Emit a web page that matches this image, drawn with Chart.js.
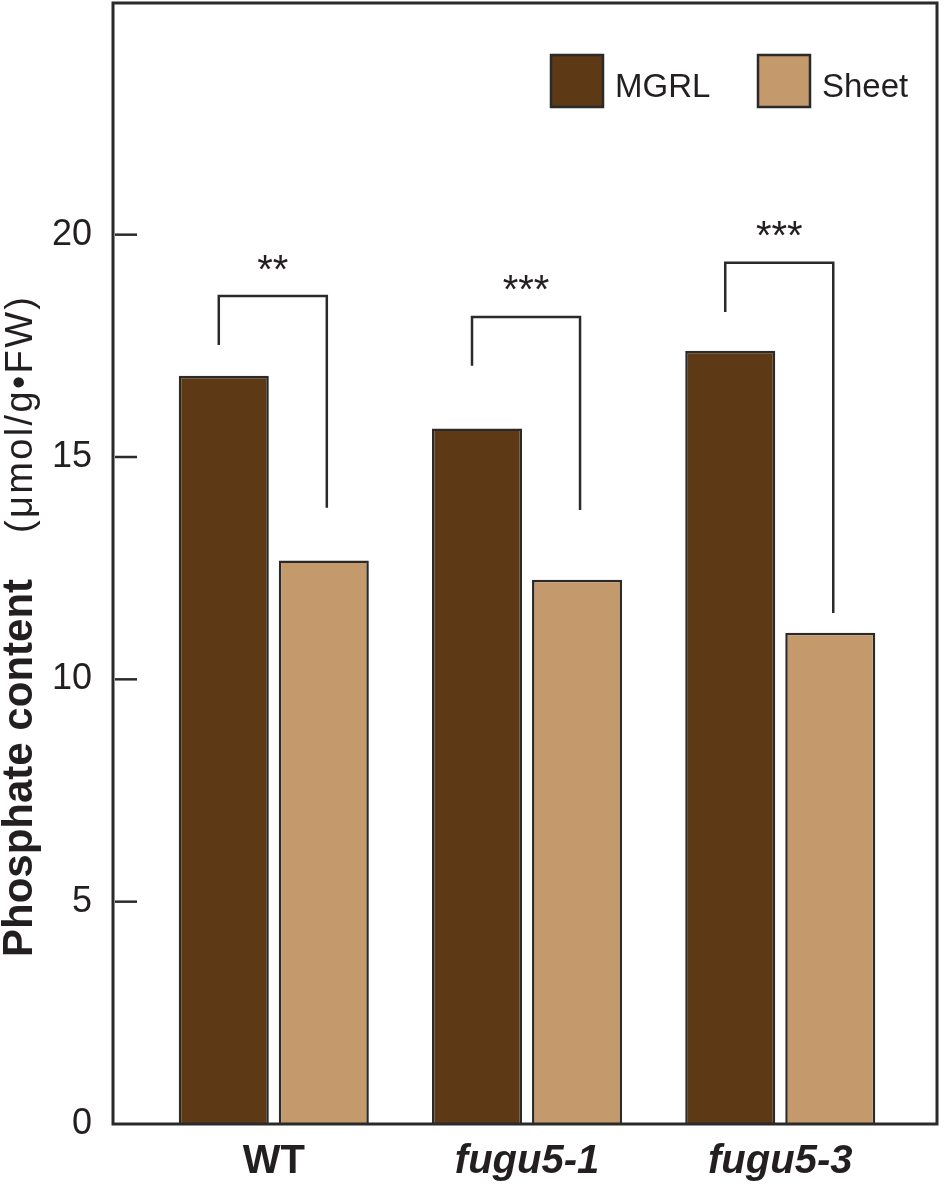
<!DOCTYPE html>
<html lang="en">
<head>
    <meta charset="UTF-8">
    <title>Phosphate content</title>
    <style>
        body {
            margin: 0;
            background-color: #ffffff;
        }
        .wrap {
            width: 944px;
            height: 1188px;
            position: relative;
        }
    </style>
    <script src="https://cdn.jsdelivr.net/npm/chart.js"></script>
</head>
<body>

<div class="wrap">
    <canvas id="phosphateChart"></canvas>
</div>

<script>
    const genotypes = ['WT', 'fugu5-1', 'fugu5-3'];
    const mgrlValues = [16.83, 15.64, 17.39];
    const sheetValues = [12.67, 12.24, 11.05];
    const yTicks = [0, 5, 10, 15, 20];
    const stars = ['**', '***', '***'];
    // significance brackets, in axis units
    const bracketTop = [18.62, 18.15, 19.37];
    const bracketLeftEnd = [17.52, 17.05, 18.26];
    const bracketRightEnd = [13.86, 13.81, 11.49];
    const starLevel = [19.37, 18.92, 20.15];

    const FONT = '"Liberation Sans", Arial, Helvetica, sans-serif';
    const INK = '#231f20';
    const EDGE = '#2a2a2a';

    function textAtCenter(ctx, text, x, yc) {
        const m = ctx.measureText(text);
        ctx.fillText(text, x, yc + (m.actualBoundingBoxAscent - m.actualBoundingBoxDescent) / 2);
    }

    const decorPlugin = {
        id: 'decor',
        afterDatasetsDraw(chart) {
            const ctx = chart.ctx;
            const area = chart.chartArea;
            const y = chart.scales.y;
            ctx.save();

            // frame
            ctx.strokeStyle = EDGE;
            ctx.lineWidth = 3;
            ctx.strokeRect(area.left, area.top, area.right - area.left, area.bottom - area.top);

            // inward tick marks
            ctx.lineWidth = 2.5;
            yTicks.forEach(v => {
                if (v === 0) return;
                const py = y.getPixelForValue(v);
                ctx.beginPath();
                ctx.moveTo(area.left + 2, py);
                ctx.lineTo(area.left + 24, py);
                ctx.stroke();
            });

            // brackets + stars
            const m0 = chart.getDatasetMeta(0).data;
            const m1 = chart.getDatasetMeta(1).data;
            ctx.lineWidth = 2.5;
            ctx.fillStyle = INK;
            ctx.font = '40px ' + FONT;
            ctx.textAlign = 'center';
            ctx.textBaseline = 'alphabetic';
            genotypes.forEach((g, i) => {
                const xl = m0[i].x - 5;
                const xr = m1[i].x + 3;
                ctx.beginPath();
                ctx.moveTo(xl, y.getPixelForValue(bracketLeftEnd[i]));
                ctx.lineTo(xl, y.getPixelForValue(bracketTop[i]));
                ctx.lineTo(xr, y.getPixelForValue(bracketTop[i]));
                ctx.lineTo(xr, y.getPixelForValue(bracketRightEnd[i]));
                ctx.stroke();
                textAtCenter(ctx, stars[i], (xl + xr) / 2, y.getPixelForValue(starLevel[i]));
            });

            // legend
            ctx.font = '33px ' + FONT;
            ctx.textAlign = 'left';
            const legendX = [area.right - 386, area.right - 179];
            chart.data.datasets.forEach((ds, i) => {
                const bx = legendX[i];
                const by = area.top + 52;
                ctx.fillStyle = ds.backgroundColor;
                ctx.fillRect(bx, by, 52, 52);
                ctx.lineWidth = 2.5;
                ctx.strokeRect(bx, by, 52, 52);
                ctx.fillStyle = INK;
                ctx.fillText(ds.label, bx + 64, by + 42);
            });

            // y title
            ctx.translate(32, 957);
            ctx.rotate(-Math.PI / 2);
            ctx.fillStyle = INK;
            ctx.font = 'bold 42px ' + FONT;
            ctx.fillText('Phosphate content', 0, 0);
            ctx.font = '38px ' + FONT;
            const unit = '(μmol/g•FW)';
            const natural = ctx.measureText(unit).width;
            ctx.letterSpacing = ((236 - natural) / (unit.length - 1)) + 'px';
            ctx.fillText(unit, 424, 0);
            ctx.restore();
        }
    };

    const ctx1 = document.getElementById('phosphateChart').getContext('2d');
    const phosphateChart = new Chart(ctx1, {
        type: 'bar',
        data: {
            datasets: [{
                label: 'MGRL',
                data: mgrlValues.map((v, i) => ({ x: i, y: v })),
                backgroundColor: '#5e3915',
                borderColor: EDGE,
                borderWidth: 2.5
            }, {
                label: 'Sheet',
                data: sheetValues.map((v, i) => ({ x: i, y: v })),
                backgroundColor: '#c4996b',
                borderColor: EDGE,
                borderWidth: 2.5
            }]
        },
        options: {
            responsive: true,
            maintainAspectRatio: false,
            animation: false,
            categoryPercentage: 0.79,
            barPercentage: 0.9,
            layout: {
                padding: { top: 3, right: 7, left: 0, bottom: 0 }
            },
            plugins: {
                legend: { display: false },
                tooltip: { enabled: false }
            },
            scales: {
                x: {
                    type: 'linear',
                    offset: false,
                    min: -0.635,
                    max: 2.619,
                    grid: { display: false, drawTicks: false },
                    border: { display: false },
                    afterBuildTicks: s => { s.ticks = genotypes.map((g, i) => ({ value: i })); },
                    afterFit: s => { s.height = 64; s.paddingLeft = 0; s.paddingRight = 0; },
                    ticks: {
                        padding: 14,
                        color: INK,
                        maxRotation: 0,
                        autoSkip: false,
                        callback: v => genotypes[v],
                        font: c => ({
                            family: FONT,
                            size: 40,
                            weight: 'bold',
                            style: c.index === 0 ? 'normal' : 'italic'
                        })
                    }
                },
                y: {
                    min: 0,
                    max: 25.21,
                    grid: { display: false, drawTicks: false },
                    border: { display: false },
                    afterBuildTicks: s => { s.ticks = yTicks.map(v => ({ value: v })); },
                    afterFit: s => { s.width = 113; s.paddingTop = 0; s.paddingBottom = 0; },
                    ticks: {
                        padding: 21,
                        color: INK,
                        font: { family: FONT, size: 36 }
                    }
                }
            }
        },
        plugins: [decorPlugin]
    });
</script>

</body>
</html>
